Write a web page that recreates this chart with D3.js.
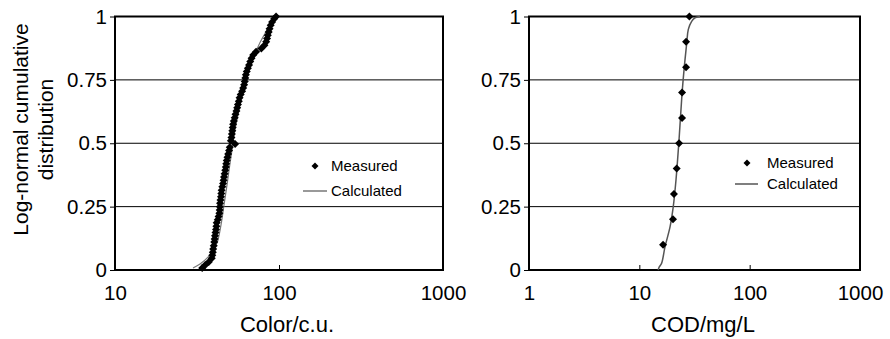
<!DOCTYPE html>
<html>
<head>
<meta charset="utf-8">
<script src="https://cdn.jsdelivr.net/npm/d3@7"></script>
<style>
  body { margin: 0; background: #fff; }
  text { font-family: "Liberation Sans", Arial, sans-serif; fill: #000; }
</style>
</head>
<body>
<script>
// measured colour values [c.u., cumulative]
var colorMeasured = [
  [34.0,0.008],[35.5,0.02],[37.3,0.032],[38.9,0.046],[39.2,0.058],[39.5,0.07],[39.7,0.083],
  [40.0,0.096],[40.3,0.11],[40.5,0.122],[40.7,0.135],[41.0,0.148],[41.3,0.16],[41.5,0.173],
  [41.7,0.186],[42.3,0.198],[42.8,0.211],[43.3,0.224],[43.5,0.237],[43.6,0.25],[43.7,0.263],
  [44.0,0.276],[44.3,0.289],[44.5,0.302],[44.7,0.315],[45.1,0.328],[45.6,0.341],[45.9,0.354],
  [46.2,0.367],[46.6,0.38],[47.0,0.393],[47.4,0.406],[47.7,0.419],[48.0,0.432],[48.5,0.445],
  [49.0,0.458],[49.6,0.471],[50.1,0.484],[54.0,0.497],[50.9,0.51],[51.3,0.523],[51.6,0.536],
  [51.9,0.549],[52.2,0.562],[52.5,0.575],[53.0,0.588],[53.7,0.601],[54.3,0.614],[55.0,0.627],
  [55.6,0.64],[56.2,0.653],[56.9,0.666],[57.5,0.679],[58.4,0.692],[59.6,0.705],[60.5,0.718],
  [61.3,0.731],[61.8,0.744],[62.3,0.757],[62.8,0.77],[63.6,0.783],[64.6,0.796],[65.7,0.809],
  [66.8,0.822],[68.0,0.835],[69.6,0.848],[72.5,0.861],[78.0,0.874],[81.5,0.887],[83.5,0.9],
  [84.6,0.913],[85.5,0.926],[86.5,0.939],[87.6,0.952],[89.0,0.965],[90.8,0.978],[93.5,0.991],
  [96.0,1.0]
]
var colorCalculated = [
  [29.9,0.008],[33.0,0.024],[36.9,0.051],[39.6,0.079],[41.9,0.107],[44.3,0.178],[46.2,0.257],
  [48.2,0.336],[49.6,0.395],[51.7,0.474],[53.9,0.553],[57.0,0.632],[60.3,0.711],[64.3,0.771],
  [70.0,0.838],[76.6,0.897],[82.2,0.933],[86.9,0.96],[91.9,0.984],[97.2,1.0]
]
var codMeasured = [
  [16.4,0.1],[20.2,0.2],[20.6,0.3],[21.8,0.4],[22.9,0.5],
  [24.4,0.6],[24.4,0.7],[26.5,0.8],[26.5,0.9],[28.4,1.0]
]
var codCalculated = [
  [14.8,0.0],[15.2,0.013],[15.9,0.026],[17.1,0.092],[19.0,0.171],[20.3,0.25],[21.5,0.356],
  [22.9,0.514],[24.4,0.698],[25.6,0.804],[26.9,0.896],[27.8,0.949],[29.8,0.981],[32.0,0.995],
  [35.5,1.0]
]
var yTicks = [0, 0.25, 0.5, 0.75, 1]
var legendLabels = ["Measured", "Calculated"]

var svg = d3.select("body").append("svg")
  .attr("width", 890)
  .attr("height", 339)

var y = d3.scaleLinear().domain([0, 1]).range([270, 16.5])

var diamond = function(r) {
  return "M0," + (-r) + "L" + r + ",0L0," + r + "L" + (-r) + ",0Z"
}

function drawPanel(opts) {
  var x = d3.scaleLog().domain(opts.domain).range(opts.range)
  var g = svg.append("g")

  // grid lines
  g.selectAll("line.grid").data([0.25, 0.5, 0.75]).enter().append("line")
    .attr("x1", opts.range[0]).attr("x2", opts.range[1])
    .attr("y1", d => y(d)).attr("y2", d => y(d))
    .attr("stroke", "#000").attr("stroke-width", 1)

  // x axis, ticks pointing in
  var xAxis = d3.axisBottom(x)
    .tickValues(opts.xTicks)
    .tickFormat(d3.format("d"))
    .tickSizeInner(-5).tickSizeOuter(0).tickPadding(15)
  var xg = g.append("g").attr("transform", "translate(0,270)").call(xAxis)
  xg.select(".domain").remove()
  xg.selectAll("text").attr("font-size", 20.5).attr("font-family", null)
  xg.selectAll("line").attr("stroke-width", 1)

  var yAxis = d3.axisLeft(y)
    .tickValues(yTicks)
    .tickFormat(d => String(d))
    .tickSizeInner(5).tickSizeOuter(0).tickPadding(3)
  var yg = g.append("g").attr("transform", "translate(" + opts.range[0] + ",0)").call(yAxis)
  yg.select(".domain").remove()
  yg.selectAll("text").attr("font-size", 20.5).attr("font-family", null)

  // frame
  g.append("rect")
    .attr("x", opts.range[0]).attr("y", y(1))
    .attr("width", opts.range[1] - opts.range[0]).attr("height", y(0) - y(1))
    .attr("fill", "none").attr("stroke", "#000").attr("stroke-width", 2)

  var line = d3.line()
    .x(d => x(d[0])).y(d => y(d[1]))
    .curve(d3.curveCatmullRom)
  g.append("path")
    .datum(opts.calc)
    .attr("d", line)
    .attr("fill", "none")
    .attr("stroke", opts.lineColor)
    .attr("stroke-width", opts.lineWidth)

  g.selectAll("path.pt").data(opts.meas).enter().append("path")
    .attr("class", "pt")
    .attr("transform", d => "translate(" + x(d[0]) + "," + y(d[1]) + ")")
    .attr("d", diamond(opts.r))
    .attr("fill", "#000")

  // legend
  var lg = g.append("g").attr("transform", "translate(" + opts.legend[0] + "," + opts.legend[1] + ")")
  lg.append("path").attr("d", diamond(3.5)).attr("fill", "#000")
  lg.append("line")
    .attr("x1", opts.legLine[0]).attr("x2", opts.legLine[1])
    .attr("y1", opts.legGap).attr("y2", opts.legGap)
    .attr("stroke", opts.lineColor).attr("stroke-width", 1.5)
  lg.selectAll("text").data(legendLabels).enter().append("text")
    .attr("x", opts.legText)
    .attr("y", (d, i) => i * opts.legGap)
    .attr("dy", "0.35em")
    .attr("font-size", 15)
    .text(d => d)

  // axis title
  g.append("text")
    .attr("x", opts.titleX).attr("y", 332)
    .attr("text-anchor", "middle")
    .attr("font-size", 22)
    .text(opts.title)
}

drawPanel({
  domain: [10, 1000], range: [115, 443], xTicks: [10, 100, 1000],
  calc: colorCalculated, meas: colorMeasured, r: 4,
  lineColor: "#777", lineWidth: 1.2,
  legend: [315, 166], legLine: [-12, 12], legText: 16, legGap: 25,
  title: "Color/c.u.", titleX: 287
})

drawPanel({
  domain: [1, 1000], range: [529, 860], xTicks: [1, 10, 100, 1000],
  calc: codCalculated, meas: codMeasured, r: 4,
  lineColor: "#555", lineWidth: 1.5,
  legend: [747, 163], legLine: [-12, 11], legText: 20, legGap: 21,
  title: "COD/mg/L", titleX: 703
})

// y axis title
svg.append("text")
  .attr("transform", "translate(27.5,129.5) rotate(-90)")
  .attr("text-anchor", "middle")
  .attr("font-size", 21)
  .text("Log-normal cumulative")
svg.append("text")
  .attr("transform", "translate(53,129.5) rotate(-90)")
  .attr("text-anchor", "middle")
  .attr("font-size", 21)
  .text("distribution")
</script>
</body>
</html>
